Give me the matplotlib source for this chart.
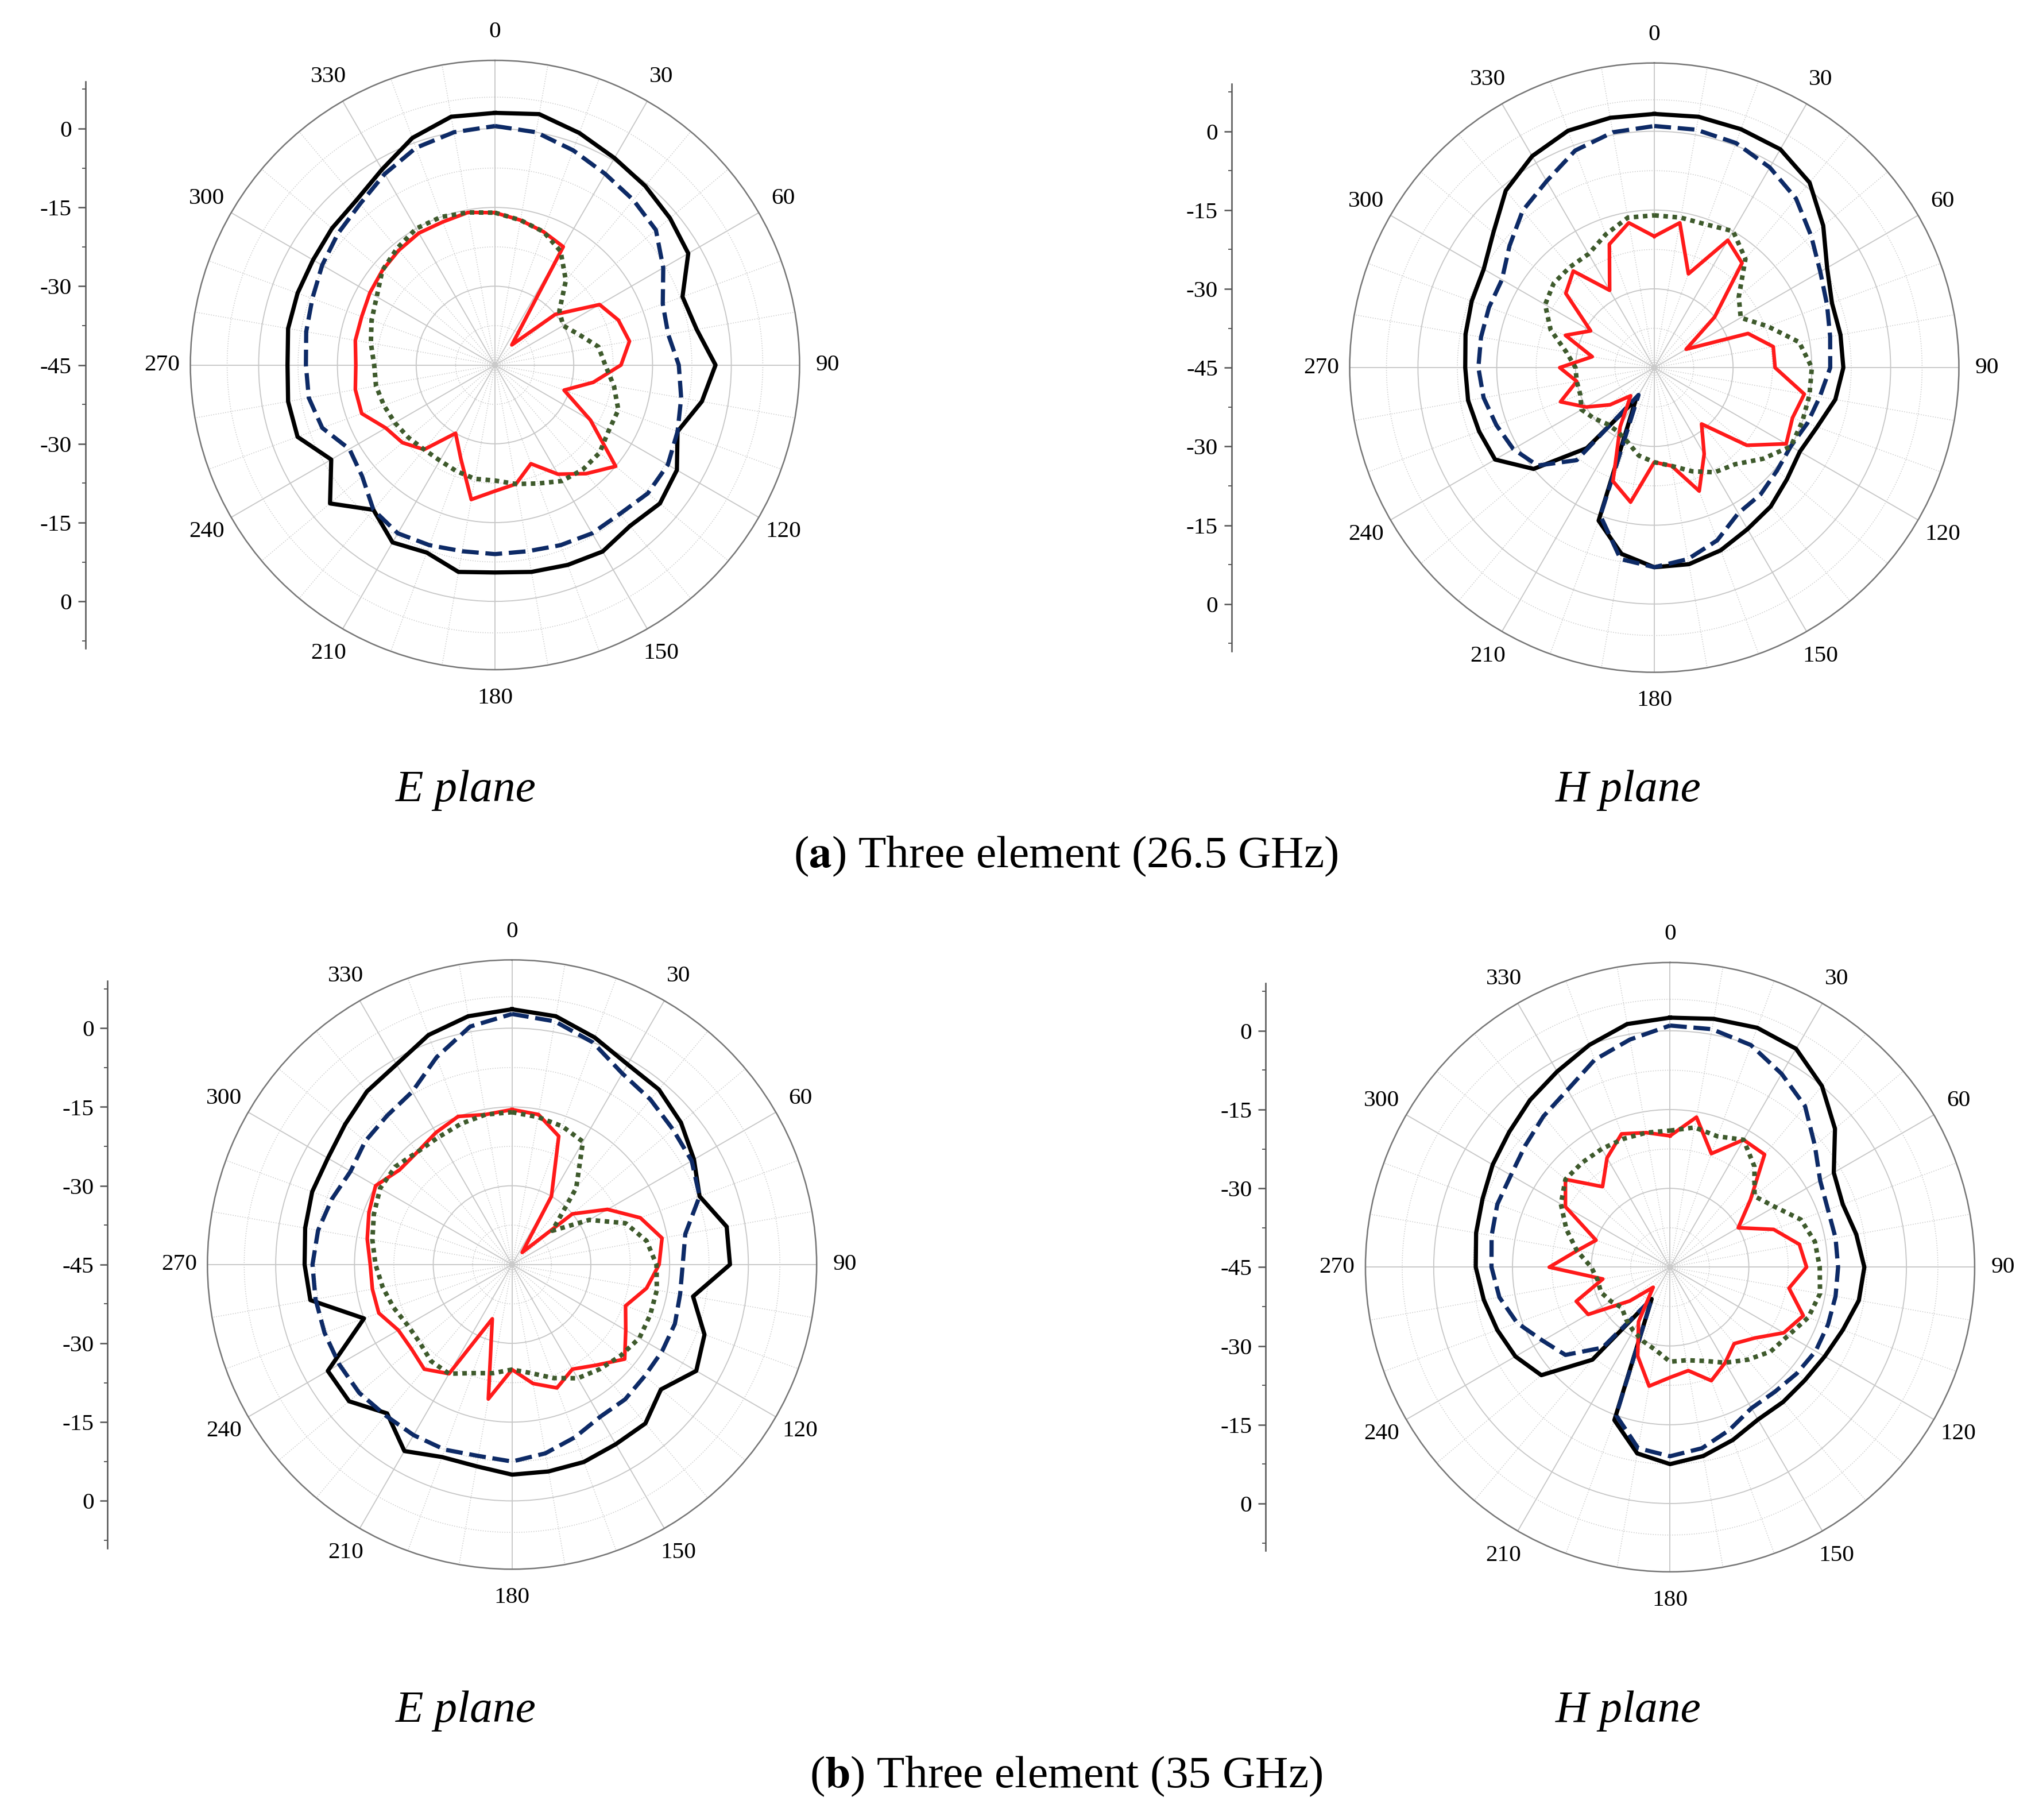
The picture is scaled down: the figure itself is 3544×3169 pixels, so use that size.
import numpy as np
import matplotlib
matplotlib.use("Agg")
import matplotlib.pyplot as plt
matplotlib.rcParams["mathtext.fontset"] = "stix"

angles_deg = list(range(0, 360, 10))

aE_black = [3,3.5,2,0.5,-0.5,-1.5,-2.5,-7,-6,-3,-5,-8,-5,-4,-5,-4,-4.5,-5,-5.5,-5,-7,-6,-9,-4,-9,-5,-5,-5.5,-5,-5,-5,-4.5,-4,-2,1,3]
aE_blue = [0.5,0,-1.5,-3,-4,-5,-8,-11,-11.5,-10,-9,-8,-7,-7,-8,-8,-8.5,-9,-9,-9,-8.5,-8,-9,-12,-13,-10,-9,-9,-8.5,-8,-7,-6,-5,-3,-1,0]
aE_red = [-16,-17,-18,-19,-40,-30,-22,-20,-19,-21,-26,-31,-24,-15,-18,-21,-25,-22,-21,-19,-26,-30,-24,-22,-21,-18,-18,-18.5,-18,-18,-17.5,-17,-16.5,-16,-16,-15.5]
aE_green = [-16,-17,-18,-20,-24,-29,-30,-28,-25,-24,-22,-20,-20,-19,-19,-19.5,-21,-22,-23,-23,-23.5,-24,-24,-23.5,-23,-22.5,-22,-22,-21,-20,-19,-17,-16,-15,-15,-15.5]

aH_black = [3.3,3.5,3.3,3,1,-3,-7,-9,-9,-9,-10,-12,-13,-12,-10.5,-9.5,-8,-7,-7,-9,-14,-38,-25,-15,-10,-9.5,-9,-9,-8.5,-8,-7.5,-5,-1,1.5,3,3.3]
aH_blue = [1,1,0.5,-1,-3,-6,-8.5,-10,-11,-11.5,-13,-14,-15,-14.5,-13.5,-13,-10,-8,-7,-8,-15,-39,-22,-16,-14,-13,-12,-11.5,-11.5,-11.5,-11.5,-9,-6,-4,-1,0.5]
aH_red = [-20,-17,-26,-17,-19,-30,-38,-26,-22,-22,-16,-17,-16,-22,-31,-26,-20,-26,-27,-19,-22,-32,-38,-34,-30,-26,-30,-27,-33,-27,-31,-23,-21,-28,-20,-17]
aH_green = [-16,-16,-16,-15,-18,-24,-26,-22,-17,-15,-15,-15,-15,-18,-21,-22,-24,-26,-27,-28,-30,-31,-31,-30,-29,-30,-30,-30,-28,-24,-21,-20,-20,-20,-18,-16]

bE_black = [3.6,3,1,-1,-1.5,-3,-5,-7,-3.5,-3.5,-10,-6,-4.5,-8,-5.5,-5.5,-5,-5,-5,-6,-6,-4,-8,-4.5,-4.5,-15,-6,-5.5,-5,-4.5,-4.5,-3.5,-2,-1,1.5,3]
bE_blue = [2.7,2,0,-3,-4,-5,-5.5,-7,-11.5,-12.5,-12.5,-12,-12,-12,-11.5,-11.5,-10,-8.5,-7.5,-8,-7.5,-7.5,-7.5,-7,-7,-7,-7,-7,-7.5,-8.5,-9.5,-8.5,-8,-7,-3,1]
bE_red = [-15.5,-16,-19,-30,-42,-30,-24,-19,-16,-17,-19,-22,-20,-17,-20,-22,-20,-22,-25,-19,-34,-21,-19,-20,-20,-18,-18,-18,-17,-16,-15,-17,-17,-16,-15,-16]
bE_green = [-16,-16.5,-17,-18,-26,-35,-28,-22,-19,-17.5,-17,-17,-17,-18,-19,-20,-22,-24,-25,-24,-23,-21,-21,-22,-22,-21,-20,-19,-18,-17,-16,-16,-17,-17,-16.5,-16]

bH_black = [2.5,3,3.5,3,0,-4,-9,-10,-9,-8,-8.5,-10,-11,-11.5,-11.5,-11.5,-10,-8.5,-7.5,-9,-14,-38,-22,-13,-11,-10,-9,-8,-7.5,-7,-6,-5,-3.5,-2,0,2]
bH_blue = [1,1,0,-2.5,-5,-9,-12,-13,-13,-13,-13,-13,-13,-13.5,-14,-14,-12,-10,-9,-10,-15,-38,-25,-19,-17,-14,-12,-11,-10.5,-10,-10,-9,-7.5,-6,-3,-1]
bH_red = [-20,-16,-22,-17,-17,-25,-30,-24,-20,-19,-22,-18,-20,-24,-26,-24,-22,-25,-24,-22,-27,-33,-40,-35,-27,-26,-32,-22,-27,-30,-22,-19,-25,-21,-18,-19]
bH_green = [-19,-18,-18.5,-17,-20,-24,-22,-18.5,-17,-16.5,-16,-17,-19,-20,-22,-24,-26,-27,-27,-29,-30,-31,-32,-33,-32,-31,-31,-30,-27,-24,-21,-19,-19,-19,-19,-19]

scale_ticks = [0, -15, -30, -45, -30, -15, 0]
plane_titles = ["E plane", "H plane"]
captions = ["Three element (26.5 GHz)", "Three element (35 GHz)"]
caption_letters = ["a", "b"]

W, H = 1550.0, 1386.0
fig = plt.figure(figsize=(15.5, 13.86), dpi=228.65)

panels = [
    ((377, 278), 65, (aE_black, aE_blue, aE_red, aE_green)),
    ((1260, 280), 938, (aH_black, aH_blue, aH_red, aH_green)),
    ((390, 963), 82, (bE_black, bE_blue, bE_red, bE_green)),
    ((1272, 965), 964, (bH_black, bH_blue, bH_red, bH_green)),
]
RMIN, RMAX = -45, 13
R_PX = 232

serif = "Liberation Serif"
for (cx, cy), sx, curves in panels:
    ax = fig.add_axes([(cx - R_PX) / W, 1 - (cy + R_PX) / H, 2 * R_PX / W, 2 * R_PX / H], projection="polar")
    ax.set_theta_zero_location("N")
    ax.set_theta_direction(-1)
    ax.set_ylim(RMIN, RMAX)
    ax.set_rgrids([-30, -15, 0], labels=[])
    ax.set_thetagrids(range(0, 360, 30), labels=[str(a) for a in range(0, 360, 30)],
                      fontfamily=serif, fontsize=13)
    ax.tick_params(axis="x", pad=5)
    ax.grid(True, color="#c8c8c8", lw=0.6, ls="-")
    for r in [-37.5, -22.5, -7.5, 6]:
        ax.plot(np.linspace(0, 2 * np.pi, 200), [r] * 200, color="#cccccc", lw=0.5, ls=":")
    for a in range(0, 360, 10):
        if a % 30:
            ax.plot([np.deg2rad(a)] * 2, [RMIN, RMAX], color="#cccccc", lw=0.5, ls=":")
    ax.spines["polar"].set_color("#777777")
    ax.spines["polar"].set_linewidth(0.8)
    th = np.deg2rad(angles_deg + [360])
    k, b, r, g = [list(c) + [c[0]] for c in curves]
    ax.plot(th, k, color="black", lw=2.3)
    ax.plot(th, b, color="#0d2a66", lw=2.3, ls=(0, (4, 1.6)))
    ax.plot(th, r, color="#ff1a1a", lw=2.0)
    ax.plot(th, g, color="#3e5a2c", lw=2.5, ls=(0, (1, 1)))

    sax = fig.add_axes([sx / W, 1 - (cy + R_PX) / H, 0.05, 2 * R_PX / H])
    sax.set_ylim(-(RMAX - RMIN), RMAX - RMIN)
    for sp in ["top", "right", "bottom"]:
        sax.spines[sp].set_visible(False)
    sax.spines["left"].set_bounds(-54, 54)
    sax.spines["left"].set_color("#555555")
    sax.set_xticks([])
    pos = [45, 30, 15, 0, -15, -30, -45]
    sax.set_yticks(pos)
    sax.set_yticklabels([str(v) for v in scale_ticks], fontfamily=serif, fontsize=13)
    sax.set_yticks(np.arange(-52.5, 53, 7.5), minor=True)
    sax.tick_params(axis="y", which="major", length=4, color="#555555")
    sax.tick_params(axis="y", which="minor", length=2, color="#555555")
    sax.patch.set_alpha(0)

for i, (ty, cap_y) in enumerate([(602, 652), (1303, 1353)]):
    for j, tx in enumerate([355, 1240]):
        fig.text(tx / W, 1 - ty / H, plane_titles[j], ha="center", va="center",
                 fontfamily=serif, fontsize=25, style="italic")
    fig.text(812 / W, 1 - cap_y / H,
             "(" + r"$\mathbf{" + caption_letters[i] + "}$" + ") " + captions[i],
             ha="center", va="center", fontfamily=serif, fontsize=25)

fig.savefig("out.png", dpi=228.65)
